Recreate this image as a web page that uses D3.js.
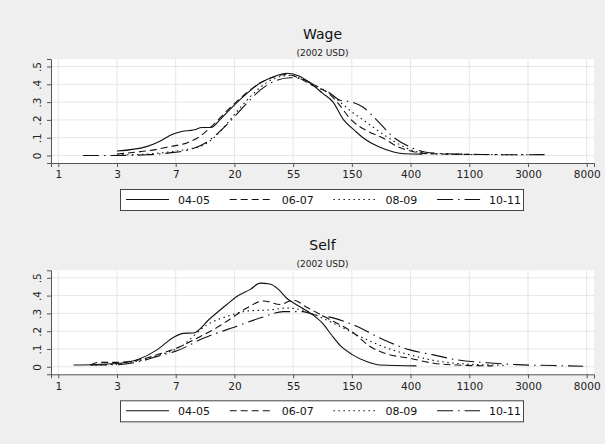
<!DOCTYPE html>
<html>
<head>
<meta charset="utf-8">
<script src="https://cdn.jsdelivr.net/npm/d3@7/dist/d3.min.js"></script>
<style>
  html, body { margin: 0; padding: 0; background: #efefef; }
  svg { display: block; }
</style>
</head>
<body>
<script>
// ---------- data ----------
const categories = ["04-05", "06-07", "08-09", "10-11"];
const panelTitles = ["Wage", "Self"];
const panelSubtitle = "(2002 USD)";
const xTickLogs = [0, 1, 2, 3, 4, 5, 6, 7, 8, 9];          // ln(income)
const xTickLabels = ["1", "3", "7", "20", "55", "150", "400", "1100", "3000", "8000"];
const yTicks = [0, 0.1, 0.2, 0.3, 0.4, 0.5];
const yTickLabels = ["0", ".1", ".2", ".3", ".4", ".5"];

// density over ln(income): [ln x, density]
const wage0405 = [[1.0,0.025],[1.5,0.05],[1.73,0.08],[1.9,0.113],[2.1,0.135],[2.3,0.143],[2.45,0.157],[2.6,0.157],[2.75,0.2],[2.95,0.268],[3.2,0.345],[3.45,0.41],[3.65,0.44],[3.9,0.462],[4.1,0.447],[4.3,0.405],[4.5,0.35],[4.68,0.3],[4.86,0.2],[5.05,0.14],[5.19,0.1],[5.45,0.05],[5.71,0.02],[5.9,0.01],[6.2,0.008]];
const wage0607 = [[1.0,0.008],[1.3,0.018],[1.6,0.03],[1.9,0.05],[2.2,0.072],[2.4,0.105],[2.6,0.16],[2.9,0.26],[3.2,0.35],[3.45,0.41],[3.7,0.445],[3.88,0.455],[4.1,0.435],[4.35,0.39],[4.6,0.35],[4.75,0.3],[4.99,0.2],[5.25,0.14],[5.52,0.1],[5.78,0.05],[6.07,0.02],[6.3,0.01],[6.8,0.007],[7.3,0.005]];
const wage0809 = [[1.0,0.003],[1.5,0.008],[1.9,0.02],[2.2,0.035],[2.45,0.055],[2.65,0.1],[2.85,0.17],[3.05,0.25],[3.3,0.34],[3.55,0.41],[3.8,0.445],[3.95,0.45],[4.15,0.43],[4.4,0.385],[4.62,0.35],[4.8,0.3],[5.0,0.245],[5.19,0.2],[5.4,0.15],[5.62,0.1],[5.88,0.05],[6.12,0.02],[6.4,0.01],[7.0,0.006],[7.6,0.005],[8.0,0.004]];
const wage1011 = [[0.42,0.0],[0.9,0.0],[1.5,0.004],[1.9,0.015],[2.2,0.03],[2.45,0.06],[2.7,0.12],[2.95,0.2],[3.2,0.29],[3.45,0.37],[3.7,0.42],[3.95,0.437],[4.15,0.43],[4.4,0.39],[4.63,0.35],[4.8,0.31],[5.0,0.3],[5.2,0.27],[5.42,0.2],[5.72,0.1],[5.98,0.05],[6.24,0.02],[6.6,0.01],[7.2,0.006],[7.8,0.004],[8.3,0.005]];

const self0405 = [[0.26,0.01],[0.65,0.013],[1.05,0.02],[1.39,0.045],[1.68,0.095],[1.96,0.165],[2.13,0.188],[2.3,0.19],[2.58,0.27],[2.87,0.35],[3.04,0.395],[3.27,0.435],[3.44,0.47],[3.6,0.465],[3.75,0.435],[3.89,0.385],[4.05,0.35],[4.3,0.3],[4.5,0.245],[4.65,0.18],[4.8,0.12],[5.0,0.07],[5.25,0.03],[5.48,0.01],[6.1,0.005]];
const self0607 = [[0.55,0.01],[0.7,0.025],[1.0,0.025],[1.39,0.04],[1.7,0.07],[2.02,0.105],[2.36,0.16],[2.7,0.22],[2.98,0.28],[3.21,0.33],[3.49,0.37],[3.78,0.35],[4.0,0.375],[4.23,0.335],[4.57,0.275],[5.03,0.19],[5.31,0.114],[5.6,0.072],[5.99,0.048],[6.39,0.02],[6.79,0.01],[7.4,0.005]];
const self0809 = [[0.55,0.01],[1.0,0.015],[1.39,0.035],[1.7,0.065],[2.07,0.11],[2.53,0.235],[2.92,0.288],[3.21,0.313],[3.61,0.32],[3.89,0.33],[4.17,0.318],[4.29,0.303],[4.68,0.246],[5.14,0.17],[5.6,0.105],[5.99,0.067],[6.5,0.03],[6.96,0.015],[7.41,0.01],[7.6,0.008]];
const self1011 = [[0.55,0.01],[1.0,0.012],[1.39,0.03],[1.7,0.06],[2.02,0.09],[2.47,0.16],[3.04,0.228],[3.49,0.28],[3.83,0.31],[4.17,0.31],[4.34,0.294],[4.68,0.275],[5.08,0.228],[5.54,0.152],[5.99,0.095],[6.39,0.067],[6.79,0.039],[7.3,0.023],[7.81,0.012],[8.43,0.007],[8.94,0.003]];

const panelSeries = [
  [wage0405, wage0607, wage0809, wage1011],
  [self0405, self0607, self0809, self1011]
];

// ---------- styles ----------
const dashes = [null, "7,4", "1.5,3.5", "16,5,1.5,5"];
const fontFamily = "'DejaVu Sans', sans-serif";

const W = 605, H = 444;
const svg = d3.select("body").append("svg").attr("width", W).attr("height", H);
svg.append("rect").attr("width", W).attr("height", H).attr("fill", "#efefef");

const plotL = 51, plotR = 594, plotT = 59, plotB = 163;
const panelOffset = 211.3;

// x: ln 0 at 58.3px, ln 9 at 586.7px
const pxPerUnit = (586.7 - 58.3) / 9;
const x = d3.scaleLinear()
  .domain([(plotL - 58.3) / pxPerUnit, (plotR - 58.3) / pxPerUnit])
  .range([plotL, plotR]);
// y: 0 at 155.5px, 0.5 at 66.5px
const yPer = (155.5 - 66.5) / 0.5;
const y = d3.scaleLinear()
  .domain([(155.5 - plotB) / yPer, (155.5 - plotT) / yPer])
  .range([plotB, plotT]);

const line = d3.line().x(d => x(d[0])).y(d => y(d[1])).curve(d3.curveMonotoneX);

panelTitles.forEach((title, p) => {
  const g = svg.append("g").attr("transform", `translate(0,${p * panelOffset})`);

  // plot background
  g.append("rect").attr("x", plotL).attr("y", plotT)
    .attr("width", plotR - plotL).attr("height", plotB - plotT).attr("fill", "#ffffff");

  // grid
  g.append("g").selectAll("line.vg").data(xTickLogs).join("line")
    .attr("x1", d => x(d)).attr("x2", d => x(d)).attr("y1", plotT).attr("y2", plotB)
    .attr("stroke", "#e6e6e6").attr("stroke-width", 1);
  g.append("g").selectAll("line.hg").data(yTicks).join("line")
    .attr("x1", plotL).attr("x2", plotR).attr("y1", d => y(d)).attr("y2", d => y(d))
    .attr("stroke", "#e6e6e6").attr("stroke-width", 1);

  // curves
  panelSeries[p].forEach((s, i) => {
    g.append("path").datum(s).attr("d", line)
      .attr("fill", "none").attr("stroke", "#111").attr("stroke-width", 1.1)
      .attr("stroke-dasharray", dashes[i]);
  });

  // x axis
  const xa = g.append("g").attr("transform", `translate(0,${plotB})`)
    .call(d3.axisBottom(x).tickValues(xTickLogs)
      .tickFormat((d, i) => xTickLabels[i]).tickSizeOuter(0).tickSize(4).tickPadding(4));
  xa.select(".domain").attr("stroke", "#555");
  xa.selectAll(".tick line").attr("stroke", "#555");
  xa.selectAll("text").attr("font-family", fontFamily).attr("font-size", 10.5).attr("fill", "#222");

  // y axis
  const ya = g.append("g").attr("transform", `translate(${plotL},0)`)
    .call(d3.axisLeft(y).tickValues(yTicks)
      .tickFormat((d, i) => yTickLabels[i]).tickSizeOuter(0).tickSize(4));
  ya.select(".domain").attr("stroke", "#555");
  ya.selectAll(".tick line").attr("stroke", "#555");
  ya.selectAll("text").attr("font-family", fontFamily).attr("font-size", 10.5).attr("fill", "#222")
    .attr("transform", "rotate(-90)").attr("x", 0).attr("y", -10.5).attr("dy", 0)
    .attr("text-anchor", "middle");

  // titles
  const cx = (plotL + plotR) / 2;
  g.append("text").attr("x", cx).attr("y", 38.5).attr("text-anchor", "middle")
    .attr("font-family", fontFamily).attr("font-size", 14).attr("fill", "#111").text(title);
  g.append("text").attr("x", cx).attr("y", 55.5).attr("text-anchor", "middle")
    .attr("font-family", fontFamily).attr("font-size", 9).attr("fill", "#222").text(panelSubtitle);

  // legend
  const lg = g.append("g");
  lg.append("rect").attr("x", 120.5).attr("y", 189.5).attr("width", 403).attr("height", 21)
    .attr("fill", "#fff").attr("stroke", "#444").attr("stroke-width", 1);
  categories.forEach((c, i) => {
    const ix = 126 + i * 103.7;
    lg.append("line").attr("x1", ix).attr("x2", ix + 43).attr("y1", 199.5).attr("y2", 199.5)
      .attr("stroke", "#111").attr("stroke-width", 1.1).attr("stroke-dasharray", dashes[i]);
    lg.append("text").attr("x", ix + 52).attr("y", 203.5)
      .attr("font-family", fontFamily).attr("font-size", 11).attr("fill", "#111").text(c);
  });
});
</script>
</body>
</html>
